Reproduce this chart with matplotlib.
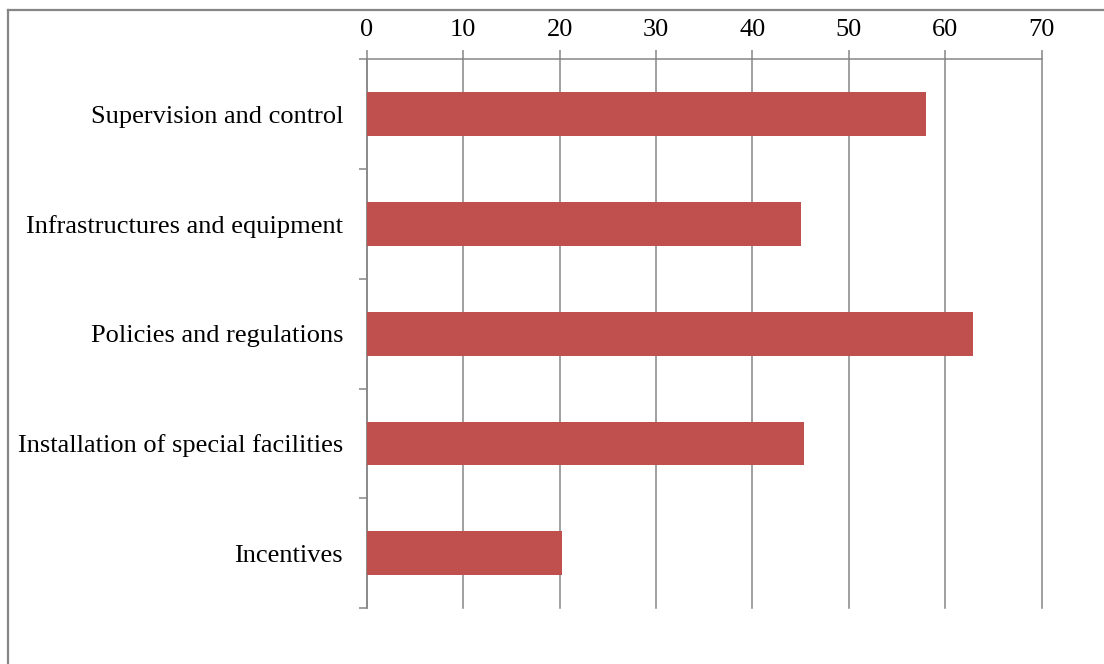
import numpy as np
import matplotlib.pyplot as plt
from matplotlib.lines import Line2D

categories = ['Supervision and control', 'Infrastructures and equipment',
              'Policies and regulations', 'Installation of special facilities',
              'Incentives']
values = [58, 45, 62.9, 45.3, 20.2]
xticks = [0, 10, 20, 30, 40, 50, 60, 70]

plt.rcParams['font.family'] = ['Liberation Serif', 'DejaVu Serif']
grey = '#868686'

fig = plt.figure(figsize=(11.04, 6.64), dpi=100)
ax = fig.add_axes([0.3322, 0.0843, 0.9436 - 0.3322, 0.9104 - 0.0843])

pos = np.arange(len(categories))
ax.barh(pos, values, height=0.4, color='#C0504D', zorder=3)

ax.set_xlim(0, 70)
ax.set_ylim(len(categories) - 0.5, -0.5)

# value axis along the top
ax.xaxis.tick_top()
ax.set_xticks(xticks)
ax.tick_params(axis='x', direction='out', length=6.5, width=1.1, color=grey,
               pad=7, labelsize=19)
ax.grid(axis='x', color=grey, linewidth=1.1, zorder=1)
for gl in ax.get_xgridlines():
    gl.set_clip_on(False)

# category ticks sit between bars, labels centred on bars
ax.set_yticks(np.arange(len(categories) + 1) - 0.5)
ax.set_yticklabels([])
ax.set_yticks(pos, minor=True)
ax.set_yticklabels(categories, minor=True)
ax.tick_params(axis='y', which='major', direction='out', length=6, width=1.1,
               color=grey)
ax.tick_params(axis='y', which='minor', length=0, pad=17, labelsize=19)

for side in ['right', 'bottom']:
    ax.spines[side].set_visible(False)
for side in ['left', 'top']:
    ax.spines[side].set_color(grey)
    ax.spines[side].set_linewidth(1.1)

# frame around the chart area
fig.add_artist(Line2D([8 / 1104, 8 / 1104], [0, 1 - 10 / 664],
                      transform=fig.transFigure, color=grey, linewidth=1.6))
fig.add_artist(Line2D([8 / 1104, 1], [1 - 10 / 664, 1 - 10 / 664],
                      transform=fig.transFigure, color=grey, linewidth=1.6))

fig.savefig('out.png', dpi=100)
